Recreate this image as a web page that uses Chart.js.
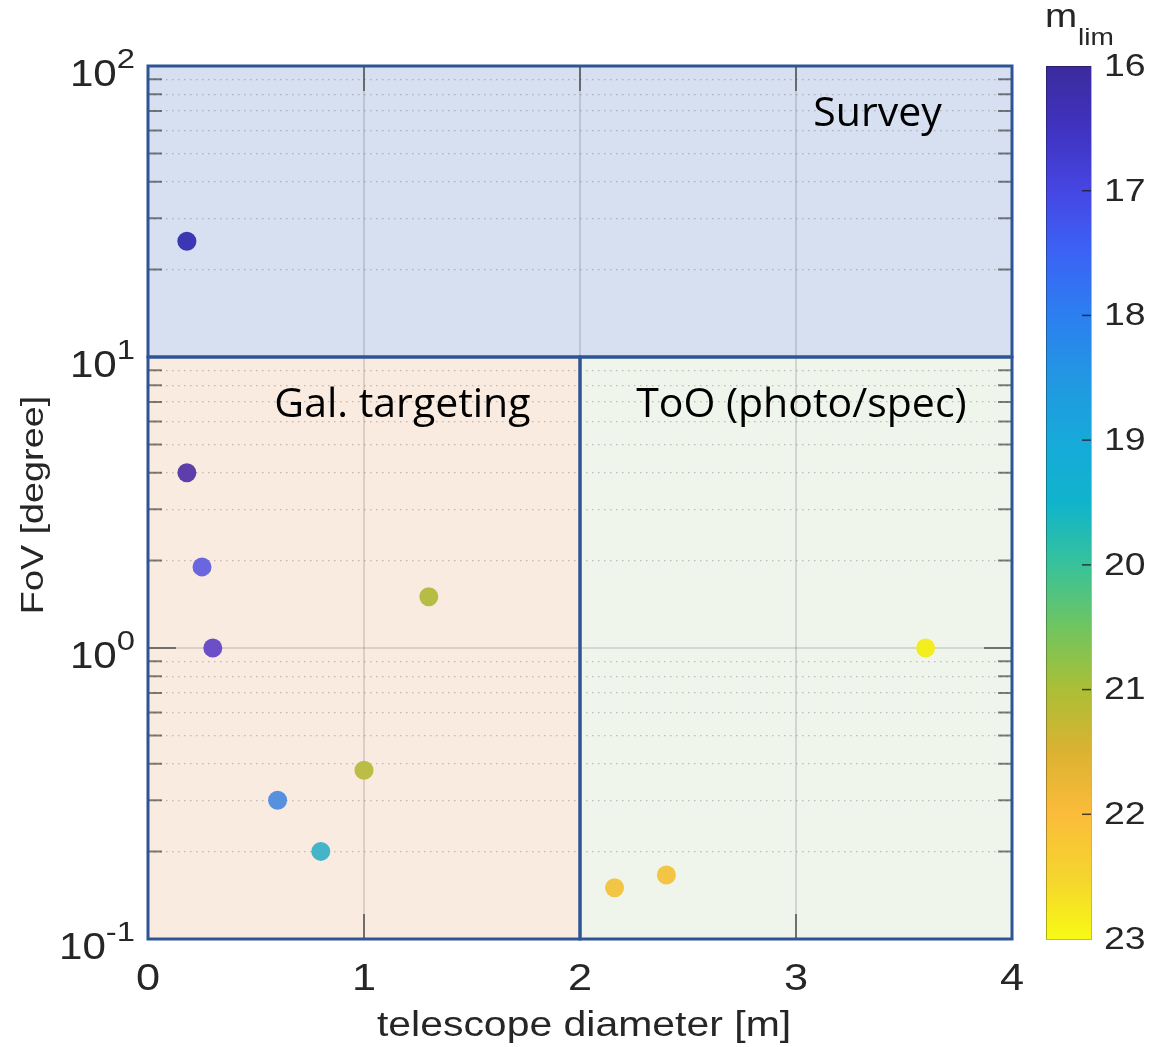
<!DOCTYPE html>
<html>
<head>
<meta charset="utf-8">
<script src="https://cdn.jsdelivr.net/npm/chart.js@4.4.0/dist/chart.umd.min.js"></script>
<style>
html, body { margin: 0; padding: 0; background: #fff; }
canvas { display: block; }
</style>
</head>
<body>
<canvas id="fovchart" width="1150" height="1047"></canvas>
<script>
// telescope diameter [m] and field of view [degree] per instrument
var diameters = [0.18, 0.18, 0.25, 0.30, 1.30, 1.00, 0.60, 0.80, 2.16, 2.40, 3.60];
var fovs = [25, 4.0, 1.9, 1.0, 1.5, 0.38, 0.30, 0.20, 0.15, 0.166, 1.0];
var pointColors = ['#3b36b4', '#5d3eaa', '#6a66e0', '#6c4fc6', '#b5bd45', '#bcbd47',
                   '#5890e0', '#45b4c8', '#f2c544', '#f2c544', '#f3ec1e'];

var xTicks = [0, 1, 2, 3, 4];
var yDecades = [0.1, 1, 10, 100];
var yExponents = ['-1', '0', '1', '2'];
var cbarTicks = [16, 17, 18, 19, 20, 21, 22, 23];
// colour bar, evenly spaced from 16 to 23
var cbarColors = ['#3c2b9d', '#3f33c0', '#4646e3', '#3b63f5', '#2c7ff0', '#2297e2', '#17a9da', '#0fb4cc',
                  '#38c29a', '#70c560', '#abbf35', '#dcb232', '#fbbc3a', '#f5d42e', '#f8fa15'];

var regionX = [[0, 4], [0, 2], [2, 4]];
var regionY = [[10, 100], [0.1, 10], [0.1, 10]];
var regionFill = ['#d6e0f1', '#faebe1', '#f0f5ec'];
var regionLabels = ['Survey', 'Gal. targeting', 'ToO (photo/spec)'];
var labelX = [3.08, 0.585, 2.26];
var labelY = [62, 6.2, 6.2];

var axisText = '#262626';

function stretchText(ctx, text, x, y, font, align, baseline, sx) {
    ctx.save();
    ctx.translate(x, y);
    ctx.scale(sx, 1);
    ctx.font = font;
    ctx.textAlign = align;
    ctx.textBaseline = baseline;
    ctx.fillText(text, 0, 0);
    ctx.restore();
}

function isDecade(v) {
    return yDecades.some(function (d) { return Math.abs(v - d) < d * 1e-6; });
}

var regionsPlugin = {
    id: 'regions',
    beforeDraw: function (chart) {
        var ctx = chart.ctx, xs = chart.scales.x, ys = chart.scales.y;
        ctx.save();
        for (var i = 0; i < regionX.length; i++) {
            var x1 = xs.getPixelForValue(regionX[i][0]), x2 = xs.getPixelForValue(regionX[i][1]);
            var y1 = ys.getPixelForValue(regionY[i][1]), y2 = ys.getPixelForValue(regionY[i][0]);
            ctx.fillStyle = regionFill[i];
            ctx.fillRect(x1, y1, x2 - x1, y2 - y1);
        }
        ctx.restore();
    },
    beforeDatasetsDraw: function (chart) {
        var ctx = chart.ctx, xs = chart.scales.x, ys = chart.scales.y, a = chart.chartArea;
        ctx.save();
        // solid line at 10^0
        ctx.strokeStyle = 'rgba(90,90,90,0.25)';
        ctx.lineWidth = 1.5;
        var y1 = ys.getPixelForValue(1);
        ctx.beginPath(); ctx.moveTo(a.left, y1); ctx.lineTo(a.right, y1); ctx.stroke();

        // tick marks inside the box
        ctx.strokeStyle = 'rgba(45,45,45,0.6)';
        ctx.lineWidth = 2;
        ys.ticks.forEach(function (t) {
            var py = ys.getPixelForValue(t.value);
            var len = isDecade(t.value) ? 28 : 14;
            ctx.beginPath();
            ctx.moveTo(a.left, py); ctx.lineTo(a.left + len, py);
            ctx.moveTo(a.right, py); ctx.lineTo(a.right - len, py);
            ctx.stroke();
        });
        xTicks.forEach(function (v) {
            var px = xs.getPixelForValue(v);
            ctx.beginPath();
            ctx.moveTo(px, a.bottom); ctx.lineTo(px, a.bottom - 25);
            ctx.moveTo(px, a.top); ctx.lineTo(px, a.top + 25);
            ctx.stroke();
        });

        // region outlines
        ctx.strokeStyle = '#2f5496';
        ctx.lineWidth = 3;
        for (var i = 0; i < regionX.length; i++) {
            var rx1 = xs.getPixelForValue(regionX[i][0]), rx2 = xs.getPixelForValue(regionX[i][1]);
            var ry1 = ys.getPixelForValue(regionY[i][1]), ry2 = ys.getPixelForValue(regionY[i][0]);
            ctx.strokeRect(rx1, ry1, rx2 - rx1, ry2 - ry1);
        }
        ctx.restore();
    },
    afterDatasetsDraw: function (chart) {
        var ctx = chart.ctx, xs = chart.scales.x, ys = chart.scales.y, cb = chart.scales.cbar;
        ctx.save();

        // region names
        ctx.fillStyle = '#000';
        for (var i = 0; i < regionLabels.length; i++) {
            stretchText(ctx, regionLabels[i], xs.getPixelForValue(labelX[i]), ys.getPixelForValue(labelY[i]),
                '41px "Open Sans"', 'left', 'alphabetic', 1);
        }

        ctx.fillStyle = axisText;
        // x tick labels
        xTicks.forEach(function (v) {
            stretchText(ctx, String(v), xs.getPixelForValue(v), 990, '37px "Liberation Sans"', 'center', 'alphabetic', 1.17);
        });
        // y tick labels 10^n
        yDecades.forEach(function (v, i) {
            var py = ys.getPixelForValue(v);
            ctx.font = '28px "Liberation Sans"';
            var ew = ctx.measureText(yExponents[i]).width * 1.17;
            var right = 135;
            stretchText(ctx, yExponents[i], right, py + 2, '28px "Liberation Sans"', 'right', 'alphabetic', 1.17);
            stretchText(ctx, '10', right - ew, py + 20, '36px "Liberation Sans"', 'right', 'alphabetic', 1.17);
        });
        // axis titles
        stretchText(ctx, 'telescope diameter [m]', 584, 1036, '35px "Liberation Sans"', 'center', 'alphabetic', 1.17);
        ctx.save();
        ctx.translate(43, 505);
        ctx.rotate(-Math.PI / 2);
        stretchText(ctx, 'FoV [degree]', 0, 0, '32px "Liberation Sans"', 'center', 'alphabetic', 1.18);
        ctx.restore();

        // colour bar
        var top = cb.getPixelForValue(cbarTicks[0]);
        var bottom = cb.getPixelForValue(cbarTicks[cbarTicks.length - 1]);
        var left = 1046, w = 45;
        var grad = ctx.createLinearGradient(0, top, 0, bottom);
        cbarColors.forEach(function (c, i) { grad.addColorStop(i / (cbarColors.length - 1), c); });
        ctx.fillStyle = grad;
        ctx.fillRect(left, top, w, bottom - top);
        ctx.strokeStyle = 'rgba(0,0,0,0.3)';
        ctx.lineWidth = 1;
        ctx.strokeRect(left + 0.5, top + 0.5, w, bottom - top);
        ctx.strokeStyle = 'rgba(30,30,30,0.8)';
        ctx.lineWidth = 1.5;
        ctx.fillStyle = axisText;
        cbarTicks.forEach(function (v) {
            var py = cb.getPixelForValue(v);
            if (v > cbarTicks[0] && v < cbarTicks[cbarTicks.length - 1]) {
                ctx.beginPath(); ctx.moveTo(left + w, py); ctx.lineTo(left + w - 9, py); ctx.stroke();
            }
            stretchText(ctx, String(v), 1104, py + 1, '32px "Liberation Sans"', 'left', 'middle', 1.17);
        });
        stretchText(ctx, 'm', 1045, 27, '33px "Liberation Sans"', 'left', 'alphabetic', 1.17);
        stretchText(ctx, 'lim', 1078, 45, '24px "Liberation Sans"', 'left', 'alphabetic', 1.17);

        ctx.restore();
    }
};

var fovctx = document.getElementById('fovchart').getContext('2d');
var fovchart = new Chart(fovctx, {
    type: 'scatter',
    data: {
        datasets: [{
            label: 'FoV',
            data: diameters.map(function (d, i) { return {x: d, y: fovs[i]}; }),
            backgroundColor: pointColors,
            borderWidth: 0,
            pointRadius: 9.5,
            pointHoverRadius: 9.5
        }]
    },
    options: {
        responsive: false,
        animation: false,
        devicePixelRatio: 1,
        layout: { padding: { left: 148, right: 138, top: 66, bottom: 108 } },
        plugins: { legend: { display: false }, tooltip: { enabled: false } },
        scales: {
            x: {
                type: 'linear', min: 0, max: 4,
                ticks: { display: false, stepSize: 1 },
                grid: {
                    drawTicks: false, lineWidth: 2,
                    color: function (c) { return (c.tick.value > 0 && c.tick.value < 4) ? 'rgba(90,90,90,0.2)' : 'transparent'; }
                },
                border: { display: false }
            },
            y: {
                type: 'logarithmic', min: 0.1, max: 100,
                afterBuildTicks: function (axis) {
                    var t = [];
                    for (var i = 0; i < yDecades.length - 1; i++) {
                        for (var k = 1; k < 10; k++) t.push({ value: parseFloat((k * yDecades[i]).toPrecision(3)) });
                    }
                    t.push({ value: yDecades[yDecades.length - 1] });
                    axis.ticks = t;
                },
                ticks: { display: false },
                grid: {
                    drawTicks: false, lineWidth: 1.2,
                    color: function (c) { return isDecade(c.tick.value) ? 'transparent' : 'rgba(90,90,90,0.35)'; }
                },
                border: { display: false, dash: [1.5, 4.5] }
            },
            cbar: { type: 'linear', position: 'right', display: false, min: 16, max: 23, reverse: true }
        }
    },
    plugins: [regionsPlugin]
});
</script>
</body>
</html>
